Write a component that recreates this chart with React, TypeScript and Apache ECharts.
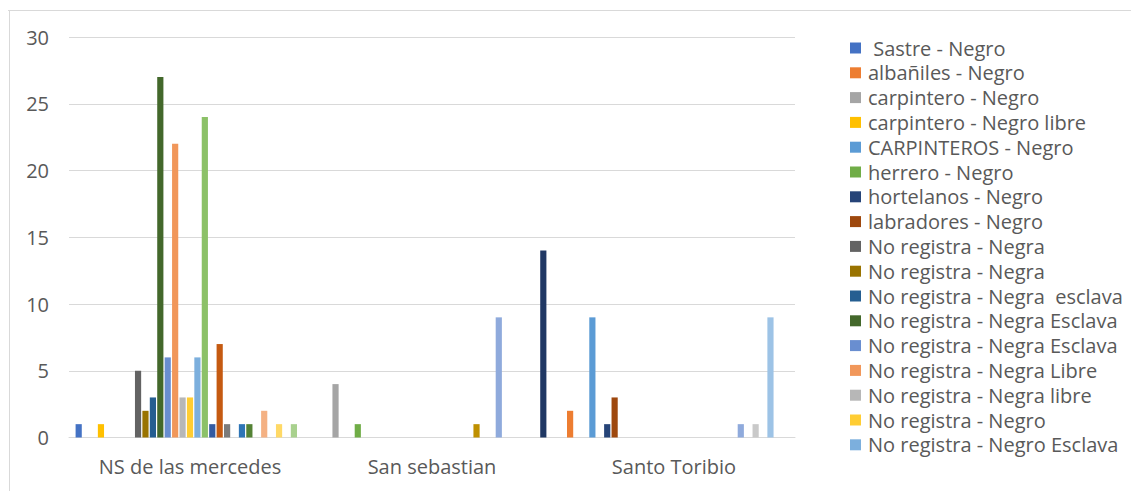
import React, { useEffect, useRef } from "react";
import * as echarts from "echarts";

const categories = ["NS de las mercedes", "San sebastian", "Santo Toribio"];

const seriesNames = [
  " Sastre - Negro",
  "albañiles - Negro",
  "carpintero - Negro",
  "carpintero - Negro libre",
  "CARPINTEROS - Negro",
  "herrero - Negro",
  "hortelanos - Negro",
  "labradores - Negro",
  "No registra - Negra",
  "No registra - Negra ",
  "No registra - Negra  esclava",
  "No registra - Negra Esclava",
  "No registra - Negra Esclava ",
  "No registra - Negra Libre",
  "No registra - Negra libre",
  "No registra - Negro",
  "No registra - Negro Esclava",
  "Serie 18",
  "Serie 19",
  "Serie 20",
  "Serie 21",
  "Serie 22",
  "Serie 23",
  "Serie 24",
  "Serie 25",
  "Serie 26",
  "Serie 27",
  "Serie 28",
  "Serie 29",
  "Serie 30",
  "Serie 31",
];

// values per category, one per series (in series order)
const nsMercedes = [1, 0, 0, 1, 0, 0, 0, 0, 5, 2, 3, 27, 6, 22, 3, 3, 6, 24, 1, 7, 1, 0, 1, 1, 0, 2, 0, 1, 0, 1, 0];
const sanSebastian = [0, 0, 4, 0, 0, 1, 0, 0, 0, 0, 0, 0, 0, 0, 0, 0, 0, 0, 0, 0, 0, 1, 0, 0, 9, 0, 0, 0, 0, 0, 14];
const santoToribio = [0, 2, 0, 0, 9, 0, 1, 3, 0, 0, 0, 0, 0, 0, 0, 0, 0, 0, 0, 0, 0, 0, 0, 0, 1, 0, 1, 0, 9, 0, 0];

const yTicks = [0, 5, 10, 15, 20, 25, 30];

const palette = [
  "#4472C4", "#ED7D31", "#A5A5A5", "#FFC000", "#5B9BD5", "#70AD47",
  "#264478", "#9E480E", "#636363", "#997300", "#255E91", "#43682B",
  "#698ED0", "#F1975A", "#B7B7B7", "#FFCD33", "#7CAFDD", "#8CC168",
  "#335AA1", "#C55A11", "#7B7B7B", "#BF9000", "#2E75B6", "#548235",
  "#8FAADC", "#F4B183", "#C9C9C9", "#FFD966", "#9DC3E6", "#A9D18E",
  "#203864",
];

const LEGEND_COUNT = 17;
const FONT = "Open Sans";
const TEXT_COLOR = "#595959";
const FS = 20;

export default function App() {
  const ref = useRef<HTMLDivElement>(null);

  useEffect(() => {
    if (!ref.current) return;
    const chart = echarts.init(ref.current, undefined, { renderer: "svg" });
    const perCategory = [nsMercedes, sanSebastian, santoToribio];
    const series = seriesNames.map((name, i) => ({
      name,
      type: "bar" as const,
      barGap: "20%",
      barCategoryGap: "5.45%",
      itemStyle: { color: palette[i] },
      data: perCategory.map((arr) => (arr[i] === 0 ? null : arr[i])),
    }));

    chart.setOption({
      animation: false,
      backgroundColor: "#ffffff",
      textStyle: { fontFamily: FONT },
      grid: { left: 69, right: 336, top: 37, bottom: 53.5, containLabel: false },
      xAxis: {
        type: "category",
        data: categories,
        axisTick: { show: false },
        axisLine: { lineStyle: { color: "#D9D9D9", width: 1 } },
        axisLabel: { color: TEXT_COLOR, fontSize: FS, fontFamily: FONT, margin: 19 },
      },
      yAxis: {
        type: "value",
        min: yTicks[0],
        max: yTicks[yTicks.length - 1],
        interval: yTicks[1] - yTicks[0],
        axisLine: { show: false },
        axisTick: { show: false },
        splitLine: { lineStyle: { color: "#D9D9D9", width: 1 } },
        axisLabel: { color: TEXT_COLOR, fontSize: FS, fontFamily: FONT, margin: 20 },
      },
      legend: {
        orient: "vertical",
        left: 850,
        top: 38,
        padding: 0,
        itemWidth: 11,
        itemHeight: 11,
        itemGap: 4.8,
        icon: "rect",
        data: seriesNames.slice(0, LEGEND_COUNT),
        formatter: (n: string) => n.replace(/ +$/, ""),
        textStyle: {
          color: TEXT_COLOR,
          fontSize: FS,
          fontFamily: FONT,
          padding: [0, 0, 0, 2],
        },
      },
      graphic: [
        { type: "line", shape: { x1: 8, y1: 10.5, x2: 1131, y2: 10.5 }, style: { stroke: "#D9D9D9", lineWidth: 1 } },
        { type: "line", shape: { x1: 9.5, y1: 10, x2: 9.5, y2: 491 }, style: { stroke: "#D9D9D9", lineWidth: 1 } },
      ],
      series,
    });

    return () => chart.dispose();
  }, []);

  return (
    <div
      ref={ref}
      style={{ position: "fixed", left: 0, top: 0, width: 1131, height: 491 }}
    />
  );
}
